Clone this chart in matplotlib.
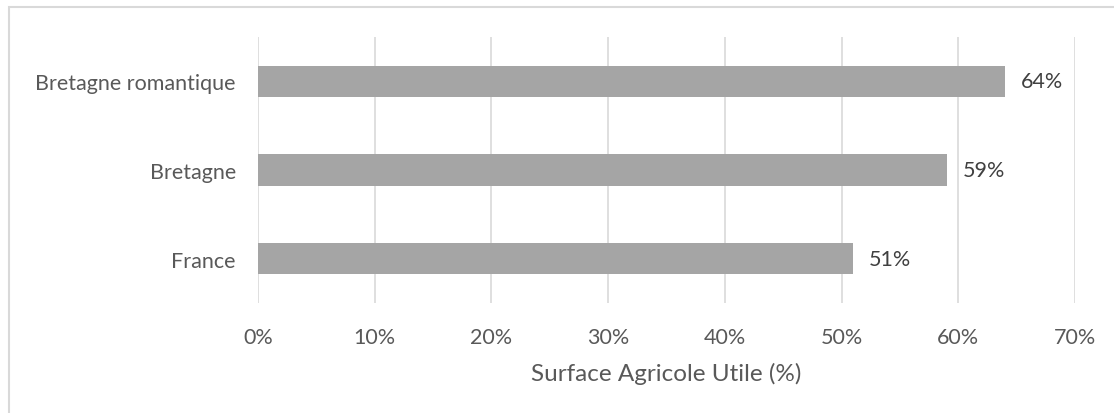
import matplotlib.pyplot as plt
from matplotlib.patches import Rectangle
from matplotlib.ticker import FuncFormatter, MultipleLocator

categories = ["France", "Bretagne", "Bretagne romantique"]
values = [51, 59, 64]
value_labels = ["51%", "59%", "64%"]
axis_title = "Surface Agricole Utile (%)"

plt.rcParams['font.family'] = ['Lato', 'DejaVu Sans']

W, H = 1114, 414
fig = plt.figure(figsize=(W / 100, H / 100), dpi=100)
# frame: only the top and left edges fall inside the canvas
fig.patches.append(Rectangle((9 / W, -20 / H), (W + 20) / W, (H - 8 + 20) / H,
                             transform=fig.transFigure, fill=False,
                             edgecolor='#D9D9D9', linewidth=1.5))

ax = fig.add_axes([258 / W, 1 - 304 / H, 817 / W, 266 / H])
ypos = range(len(categories))
ax.barh(ypos, values, height=0.35, color='#A5A5A5', zorder=3)

for y, v, lab in zip(ypos, values, value_labels):
    ax.annotate(lab, (v, y), xytext=(11.5, 0), textcoords='offset points',
                va='center', ha='left', fontsize=15.5, color='#404040')

ax.set_xlim(0, 70)
ax.set_ylim(-0.5, 2.5)
ax.xaxis.set_major_locator(MultipleLocator(10))
ax.xaxis.set_major_formatter(FuncFormatter(lambda x, p: f"{x:.0f}%"))
ax.set_yticks(list(ypos))
ax.set_yticklabels(categories)
ax.grid(axis='x', color='#D9D9D9', linewidth=1.2, zorder=0)
for s in ax.spines.values():
    s.set_visible(False)
ax.tick_params(axis='both', length=0, labelsize=15.5, colors='#595959')
ax.tick_params(axis='x', pad=17)
ax.tick_params(axis='y', pad=16)
ax.set_xlabel(axis_title, fontsize=17.5, color='#595959', labelpad=11)

fig.savefig('out.png', dpi=100)
